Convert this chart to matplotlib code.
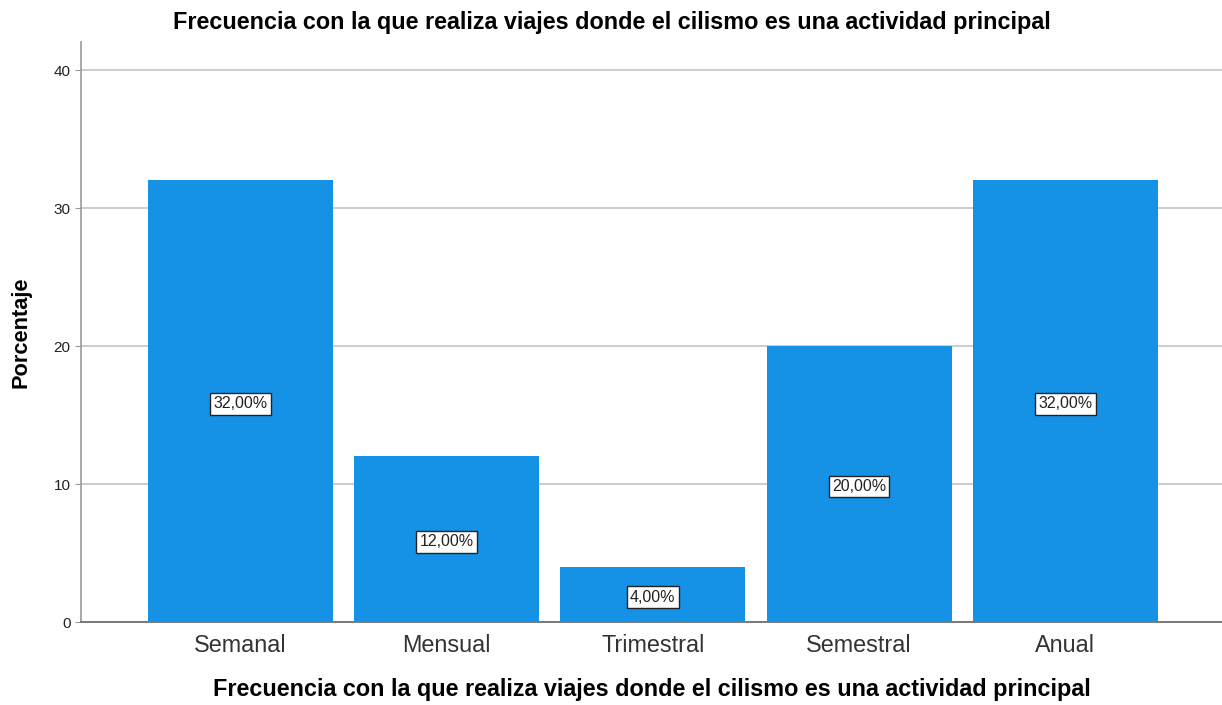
import matplotlib
matplotlib.use("Agg")
import matplotlib.pyplot as plt

plt.rcParams['font.family'] = ['Liberation Sans', 'DejaVu Sans']

# data
categorias = ["Semanal", "Mensual", "Trimestral", "Semestral", "Anual"]
porcentajes = [32.0, 12.0, 4.0, 20.0, 32.0]
titulo = "Frecuencia con la que realiza viajes donde el cilismo es una actividad principal"

fig = plt.figure(figsize=(12.22, 7.05), dpi=100)
ax = fig.add_axes([81 / 1222, 1 - 622 / 705, 1 - 81 / 1222, (622 - 42) / 705])

x = list(range(len(categorias)))
ax.bar(x, porcentajes, width=0.897, color="#1591E6", zorder=3)

# labels in the middle of each bar
for xi, v in zip(x, porcentajes):
    ax.text(xi, v / 2 - 0.2, f"{v:.2f}%".replace(".", ","), ha="center", va="center",
            fontsize=11.5, color="#222222", zorder=4,
            bbox=dict(boxstyle="square,pad=0.2", fc="white", ec="#222222", lw=1))

ax.set_xlim(-0.773, 4.76)
ax.set_ylim(0, 42.03)
ax.set_yticks([0, 10, 20, 30, 40])
ax.set_xticks(x)
ax.set_xticklabels(categorias, fontsize=16.8, color="#333333")
ax.tick_params(axis="x", length=0, pad=9)
ax.tick_params(axis="y", labelsize=11, length=4, color="#999999", labelcolor="#222222")
ax.yaxis.grid(True, color="#C8C8C8", lw=1.3, zorder=0)

for s in ["top", "right"]:
    ax.spines[s].set_visible(False)
ax.spines["left"].set_color("#999999")
ax.spines["bottom"].set_color("#666666")
ax.spines["left"].set_linewidth(1.2)
ax.spines["bottom"].set_linewidth(1.2)

ax.set_ylabel("Porcentaje", fontsize=15.7, fontweight="bold", labelpad=16)
ax.set_xlabel(titulo, fontsize=16.8, fontweight="bold", labelpad=15)
fig.text(612 / 1222, 1 - 22 / 705, titulo, ha="center", va="center",
         fontsize=16.8, fontweight="bold")

fig.savefig("out.png", dpi=100)
